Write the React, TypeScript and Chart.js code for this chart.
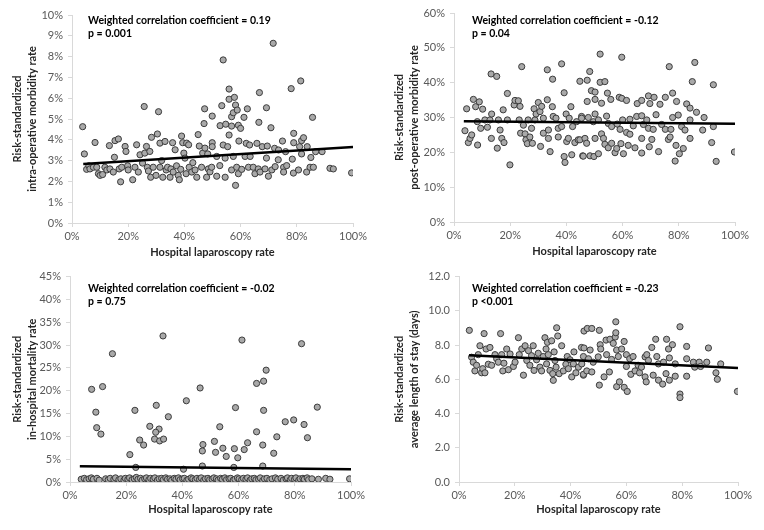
import React, { useEffect, useRef } from "react";
import { Chart, registerables } from "chart.js";
Chart.register(...registerables);

const FONT = "Lato, 'Open Sans', sans-serif";

const xTickValues = [0, 20, 40, 60, 80, 100];
const xAxisTitle = "Hospital laparoscopy rate";

// Panel 1: intra-operative morbidity (x: laparoscopy %, y: %)
const intraopPoints: number[][] = [
  [3.8,4.63],[4.4,3.32],[5.2,2.58],[6.0,2.75],[6.4,2.60],[7.6,2.68],[8.2,3.87],[8.8,2.68],[9.4,2.37],[10.0,2.29],
  [10.9,2.33],[11.7,2.68],[12.4,2.55],[13.3,3.72],[13.5,2.60],[14.7,2.45],[15.1,3.16],[15.3,3.96],[16.5,4.04],[16.8,2.60],
  [17.3,1.98],[17.7,2.68],[18.9,3.68],[19.2,3.44],[19.8,2.75],[20.0,2.55],[21.6,2.08],[22.4,2.68],[23.0,3.76],[23.6,2.45],
  [24.2,3.28],[25.1,2.88],[25.7,5.60],[25.9,3.36],[26.5,3.68],[26.8,2.68],[27.2,2.50],[27.7,3.44],[28.0,2.20],[28.3,4.12],
  [28.9,2.68],[29.9,2.29],[30.4,4.28],[30.8,5.35],[31.3,3.84],[31.3,2.68],[31.9,3.00],[32.3,2.20],[33.1,3.92],[33.5,2.55],
  [34.0,2.68],[34.9,2.20],[35.2,2.60],[35.8,3.86],[36.0,2.45],[36.7,3.52],[37.2,2.75],[37.8,2.29],[38.2,2.08],[38.7,2.58],
  [39.0,4.18],[39.4,3.86],[39.8,3.36],[40.2,3.12],[40.6,2.37],[40.8,3.84],[41.5,3.76],[41.7,2.68],[42.6,2.45],[43.0,2.90],
  [43.8,2.55],[44.4,2.20],[44.9,4.25],[45.3,3.70],[46.1,2.68],[46.5,3.36],[47.0,4.78],[47.2,5.49],[47.3,3.60],[47.9,2.20],
  [48.5,2.60],[48.3,3.32],[49.1,2.46],[49.7,2.68],[49.9,3.86],[49.9,3.67],[49.9,5.14],[51.5,3.20],[51.5,2.25],[52.6,2.76],
  [52.7,4.68],[53.3,5.64],[53.8,7.84],[53.8,3.75],[54.5,3.12],[54.5,2.20],[54.7,4.75],[55.4,3.67],[55.9,6.44],[55.9,5.95],
  [55.9,4.23],[56.8,5.11],[56.8,4.66],[56.8,2.55],[57.4,5.30],[57.4,3.20],[57.8,6.04],[58.2,5.67],[58.2,1.81],[58.6,2.68],
  [58.8,5.43],[59.2,4.70],[59.2,2.37],[59.4,3.94],[60.0,4.55],[60.4,2.58],[61.2,5.08],[61.6,3.20],[62.0,3.83],[62.4,5.49],
  [62.8,2.68],[63.2,3.75],[63.4,3.20],[64.5,2.68],[65.1,2.37],[65.8,3.83],[66.3,2.60],[66.5,4.84],[66.7,6.27],[66.9,2.45],
  [67.7,3.67],[68.7,2.60],[69.2,5.54],[69.2,3.12],[69.5,3.70],[69.9,2.25],[70.8,4.58],[71.1,2.55],[71.6,8.64],[72.1,3.59],
  [72.3,2.71],[73.4,3.04],[73.5,3.51],[74.9,3.94],[75.3,2.68],[75.3,2.45],[76.0,3.43],[76.4,2.76],[78.0,6.46],[78.4,3.07],
  [78.8,2.40],[78.9,4.31],[78.9,3.86],[80.6,2.55],[81.0,3.67],[81.4,6.83],[81.7,3.96],[81.7,3.32],[82.4,4.10],[83.5,2.45],
  [83.7,3.67],[84.7,2.68],[85.0,3.15],[85.6,5.08],[85.9,2.68],[86.7,3.43],[89.0,3.43],[91.8,2.63],[93.0,2.60],[99.5,2.41]
];
const intraopTrend: number[][] = [[4, 2.84], [100, 3.65]];

// Panel 2: post-operative morbidity
const postopPoints: number[][] = [
  [3.9,26.2],[4.5,32.5],[5.1,22.8],[5.7,24.0],[6.3,25.0],[6.9,35.2],[7.7,33.1],[8.3,28.8],[8.4,22.1],[9.0,34.5],
  [9.5,26.9],[10.2,32.4],[11.0,29.3],[11.9,27.2],[12.8,29.3],[13.2,42.5],[13.3,24.0],[13.4,31.0],[15.2,41.8],[15.4,21.2],
  [15.8,29.3],[16.4,26.4],[17.0,24.0],[17.5,32.2],[17.8,22.8],[19.0,36.9],[19.0,29.3],[19.9,16.4],[21.4,33.6],[21.7,34.9],
  [22.9,34.8],[23.2,29.3],[23.5,33.2],[23.7,25.5],[24.1,44.6],[24.7,27.8],[25.3,25.3],[25.6,23.6],[26.1,22.5],[26.4,29.3],
  [27.0,24.4],[27.6,26.9],[27.9,22.6],[28.5,32.5],[28.8,29.3],[29.2,31.0],[30.0,34.3],[30.6,31.7],[30.8,21.7],[31.2,33.2],
  [31.8,29.8],[31.8,25.5],[33.2,43.7],[33.2,35.1],[33.6,26.4],[33.6,24.0],[34.2,20.2],[35.0,33.1],[35.1,41.0],[35.3,30.3],
  [36.3,29.8],[37.1,26.9],[37.1,24.4],[38.3,45.4],[38.3,27.4],[39.2,37.1],[39.2,18.8],[39.5,17.1],[39.9,31.0],[40.1,23.1],
  [40.7,24.0],[41.0,29.8],[41.6,33.1],[41.9,19.3],[42.2,27.4],[43.0,22.8],[43.6,28.8],[44.2,23.6],[44.8,40.4],[45.4,30.3],
  [45.8,19.0],[44.8,23.6],[45.4,29.8],[46.0,18.9],[46.6,24.0],[47.2,22.6],[47.4,40.7],[47.4,34.6],[47.8,30.0],[48.3,43.2],
  [48.4,19.0],[48.9,37.7],[49.6,28.8],[49.8,18.8],[50.2,37.3],[50.2,35.2],[50.2,31.0],[50.2,24.0],[51.4,29.3],[51.4,19.6],
  [52.0,48.2],[52.0,40.1],[52.5,34.1],[52.5,25.3],[53.2,24.0],[53.7,40.3],[53.7,22.3],[54.3,30.4],[54.6,37.0],[54.9,28.3],
  [54.9,21.3],[55.8,35.2],[56.1,27.4],[56.1,22.6],[57.3,19.9],[57.9,21.1],[58.1,28.1],[58.8,35.8],[59.1,26.6],[59.4,22.5],
  [59.7,47.3],[59.7,35.5],[60.0,29.3],[60.3,19.6],[61.4,34.9],[61.4,25.7],[62.0,22.0],[62.6,29.5],[62.6,25.2],[63.8,27.6],
  [64.4,21.3],[65.0,30.3],[65.2,34.0],[66.8,34.9],[66.8,30.5],[66.8,24.0],[66.8,19.8],[67.4,28.0],[68.6,29.3],[69.2,36.2],
  [69.2,26.9],[69.5,21.6],[69.7,34.0],[70.4,23.7],[70.9,26.6],[71.2,35.8],[71.9,30.8],[72.8,20.2],[73.3,33.8],[73.9,28.0],
  [75.2,35.8],[75.2,26.6],[76.3,23.7],[76.6,44.6],[76.9,24.4],[77.2,26.6],[77.8,37.0],[77.8,30.0],[78.7,17.5],[79.0,22.0],
  [79.2,34.6],[79.8,30.7],[80.2,19.6],[81.0,27.4],[81.6,21.1],[82.2,26.4],[82.8,33.9],[84.0,32.7],[84.0,29.3],[84.0,24.0],
  [84.8,40.3],[85.7,45.8],[86.3,31.5],[88.5,26.4],[89.0,30.0],[91.7,22.8],[92.3,39.4],[92.3,27.4],[93.3,17.4],[99.8,20.1]
];
const postopTrend: number[][] = [[3.5, 28.9], [100, 28.2]];

// Panel 3: in-hospital mortality
const mortalityPoints: number[][] = [
  [33.1,32.0],[15.1,28.1],[7.7,20.3],[11.6,20.9],[46.3,20.6],[9.2,15.3],[9.5,11.9],[11.0,10.5],[23.1,15.7],[30.7,16.8],
  [41.4,17.8],[35.0,14.3],[28.4,12.2],[31.7,11.6],[30.5,10.9],[24.8,9.2],[26.2,8.1],[30.1,9.4],[31.9,9.0],[33.3,9.4],
  [47.3,8.2],[47.1,6.8],[21.3,6.0],[23.4,3.2],[40.4,2.8],[47.1,3.5],
  [61.2,31.1],[82.4,30.3],[69.8,24.5],[66.4,21.6],[68.9,22.1],[58.9,16.3],[68.9,15.7],[88.0,16.4],[76.6,13.2],[79.6,13.6],
  [83.3,12.6],[53.3,12.1],[66.4,11.0],[73.6,9.9],[84.5,9.7],[51.4,8.9],[63.2,8.6],[68.6,8.1],[54.4,7.4],[58.5,7.3],
  [62.0,7.1],[51.8,6.5],[72.5,6.3],[55.6,5.6],[59.7,5.3],[58.3,3.2],[68.6,3.5],
  [4.0,0.6],[5.1,0.8],[5.9,0.5],[6.8,0.7],[7.6,0.9],[8.3,0.6],[9.6,0.8],[10.4,0.4],[12.7,0.7],[13.6,0.5],
  [14.3,0.8],[15.6,0.6],[16.2,0.9],[17.4,0.5],[18.1,0.7],[19.2,0.4],[19.7,0.8],[20.6,0.6],[21.2,0.9],[22.1,0.5],
  [22.9,0.7],[23.6,1.0],[24.2,0.6],[25.1,0.8],[25.7,0.4],[26.6,0.7],[27.2,0.9],[28.1,0.5],[28.7,0.8],[29.6,0.6],
  [30.2,0.9],[31.1,0.4],[31.7,0.7],[32.6,0.8],[33.2,0.5],[34.1,0.9],[34.7,0.6],[35.6,0.7],[36.2,0.4],[37.1,0.8],
  [37.7,0.6],[38.6,0.9],[39.2,0.5],[40.1,0.7],[40.7,0.8],[41.6,0.4],[42.2,0.6],[43.1,0.9],[43.7,0.7],[44.6,0.5],
  [45.2,0.8],[46.1,0.6],[46.7,0.9],[47.6,0.4],[48.2,0.7],[49.1,0.8],[49.7,0.5],[50.6,0.6],[51.2,0.9],[52.1,0.7],
  [52.7,0.4],[53.6,0.8],[54.2,0.6],[55.1,0.9],[55.7,0.5],[56.6,0.7],[57.2,0.8],[58.1,0.4],[58.7,0.6],[59.6,0.9],
  [60.2,0.7],[61.1,0.5],[61.7,0.8],[62.6,0.6],[63.2,0.9],[64.1,0.4],[64.7,0.7],[65.6,0.8],[66.2,0.5],[67.1,0.6],
  [67.7,0.9],[68.6,0.3],[69.2,0.7],[70.1,0.8],[71.1,0.5],[71.9,0.7],[73.1,0.9],[73.9,0.6],[75.1,0.8],[75.9,0.4],
  [76.9,0.7],[77.4,0.9],[78.4,0.5],[78.9,0.8],[79.9,0.6],[80.4,0.9],[81.4,0.4],[81.9,0.7],[82.9,0.8],[83.4,0.6],
  [84.4,0.9],[84.9,0.5],[86.1,0.7],[88.4,0.6],[91.0,0.8],[92.5,0.6],[99.5,0.7]
];
const mortalityTrend: number[][] = [[3.5, 3.45], [100, 2.8]];

// Panel 4: average length of stay (days)
const stayPoints: number[][] = [
  [3.7,8.86],[4.5,7.29],[5.1,7.00],[5.7,6.49],[6.3,6.82],[6.9,7.44],[7.5,7.96],[8.1,6.38],[8.5,6.62],[9.0,8.67],
  [9.3,6.38],[9.7,7.77],[10.5,6.88],[11.1,7.86],[11.7,6.82],[12.9,7.44],[13.5,7.20],[14.1,7.00],[14.9,8.67],[15.3,7.44],
  [15.7,6.49],[16.1,6.94],[17.1,7.77],[17.7,6.56],[18.3,7.48],[19.5,6.75],[20.1,7.00],[21.3,8.43],[21.6,7.44],[22.5,7.77],
  [23.1,6.24],[23.7,7.96],[24.3,7.10],[24.9,7.67],[25.4,6.82],[26.0,7.38],[26.6,7.96],[26.9,6.52],[27.8,7.14],[28.4,7.52],
  [29.0,6.71],[29.6,6.49],[30.2,7.33],[30.8,8.43],[31.2,7.77],[31.4,6.90],[31.7,8.16],[32.0,7.44],[32.6,6.52],[33.2,8.25],
  [33.6,6.33],[33.8,5.94],[34.1,7.60],[34.4,7.10],[34.8,6.71],[35.0,9.01],[35.4,8.53],[35.9,6.33],[36.8,7.96],[37.4,6.49],
  [38.3,6.88],[38.8,7.33],[39.2,6.62],[39.8,7.14],[40.4,6.14],[41.0,6.90],[41.2,7.60],[41.9,6.38],[42.8,6.71],[43.9,7.86],
  [44.6,6.24],[44.8,8.82],[44.0,6.90],[44.6,7.33],[44.6,6.29],[44.8,7.83],[45.8,6.49],[46.0,8.97],[46.4,7.20],[47.0,7.71],
  [47.6,8.97],[47.6,6.43],[48.1,7.00],[49.9,7.31],[50.3,8.86],[50.3,5.66],[50.6,8.02],[50.8,7.77],[52.0,6.14],[52.7,8.29],
  [52.9,7.44],[53.9,6.43],[54.1,8.34],[54.7,7.16],[55.3,8.10],[56.0,8.47],[56.2,9.36],[56.2,8.72],[56.5,7.71],[56.5,5.57],
  [57.1,7.33],[57.5,5.85],[58.3,7.77],[59.2,8.21],[59.2,5.53],[60.0,7.44],[60.0,6.75],[60.3,5.29],[61.2,7.20],[61.6,6.29],
  [62.4,7.33],[63.1,6.49],[64.2,6.82],[64.7,6.38],[65.4,6.71],[66.7,7.31],[66.7,6.14],[67.1,5.85],[67.3,7.44],[67.9,7.10],
  [69.1,7.86],[69.6,6.24],[70.5,8.34],[70.9,7.33],[71.5,6.90],[71.5,5.95],[73.0,5.72],[73.3,7.00],[74.2,6.33],[74.4,8.34],
  [75.1,7.77],[75.4,7.25],[75.4,5.95],[76.5,8.02],[77.5,6.90],[77.5,6.18],[79.2,9.07],[79.2,5.14],[79.2,4.93],[81.6,7.92],
  [81.6,7.20],[81.6,6.18],[84.0,7.00],[84.5,6.71],[86.1,7.00],[86.6,6.75],[88.8,7.00],[89.4,7.83],[92.1,6.38],[92.6,6.00],
  [93.8,6.90],[99.8,5.29]
];
const stayTrend: number[][] = [[3.6, 7.41], [100, 6.66]];

type PanelCfg = {
  points: number[][];
  trend: number[][];
  yMax: number;
  yStep: number;
  yFmt: (v: number) => string;
  yTitle: string[];
  stat1: string;
  stat2: string;
  pad: { left: number; top: number; right: number; bottom: number };
  xTitlePad: number;
  textDx: number;
  textDy: number;
};

const pct = (v: number) => `${v}%`;

const panels: { cfg: PanelCfg; left: number; top: number }[] = [
  {
    left: 0, top: 0,
    cfg: {
      points: intraopPoints, trend: intraopTrend, yMax: 10, yStep: 1, yFmt: pct,
      yTitle: ["Risk-standardized", "intra-operative morbidity rate"],
      stat1: "Weighted correlation coefficient = 0.19", stat2: "p = 0.001",
      pad: { left: 72, top: 15, right: 29, bottom: 42 }, xTitlePad: 6, textDx: 16, textDy: 6,
    },
  },
  {
    left: 382, top: 0,
    cfg: {
      points: postopPoints, trend: postopTrend, yMax: 60, yStep: 10, yFmt: pct,
      yTitle: ["Risk-standardized", "post-operative morbidity rate"],
      stat1: "Weighted correlation coefficient = -0.12", stat2: "p = 0.04",
      pad: { left: 72, top: 13, right: 29, bottom: 43 }, xTitlePad: 7, textDx: 18, textDy: 8,
    },
  },
  {
    left: 0, top: 265,
    cfg: {
      points: mortalityPoints, trend: mortalityTrend, yMax: 45, yStep: 5, yFmt: pct,
      yTitle: ["Risk-standardized", "in-hospital mortality rate"],
      stat1: "Weighted correlation coefficient = -0.02", stat2: "p = 0.75",
      pad: { left: 70, top: 8, right: 31, bottom: 48 }, xTitlePad: 14, textDx: 18, textDy: 12,
    },
  },
  {
    left: 382, top: 265,
    cfg: {
      points: stayPoints, trend: stayTrend, yMax: 12, yStep: 2, yFmt: (v: number) => v.toFixed(1),
      yTitle: ["Risk-standardized", "average length of stay (days)"],
      stat1: "Weighted correlation coefficient = -0.23", stat2: "p <0.001",
      pad: { left: 77, top: 8, right: 26, bottom: 48 }, xTitlePad: 14, textDx: 13, textDy: 12,
    },
  },
];

function Panel({ cfg, left, top }: { cfg: PanelCfg; left: number; top: number }) {
  const ref = useRef<HTMLCanvasElement | null>(null);
  useEffect(() => {
    if (!ref.current) return;
    const statPlugin = {
      id: "stat",
      afterDraw(chart: any) {
        const { ctx, chartArea } = chart;
        ctx.save();
        ctx.fillStyle = "#000";
        ctx.font = `bold 10.5px ${FONT}`;
        ctx.textBaseline = "middle";
        ctx.textAlign = "left";
        const x = chartArea.left + cfg.textDx;
        const y = chartArea.top + cfg.textDy;
        ctx.fillText(cfg.stat1, x, y);
        ctx.fillText(cfg.stat2, x, y + 13);
        ctx.restore();
      },
    };
    const chart = new Chart(ref.current, {
      type: "scatter",
      data: {
        datasets: [
          {
            type: "line",
            data: cfg.trend.map(([x, y]) => ({ x, y })),
            borderColor: "#000",
            borderWidth: 2.5,
            pointRadius: 0,
            fill: false,
            order: 0,
          } as any,
          {
            data: cfg.points.map(([x, y]) => ({ x, y })),
            backgroundColor: "#a9a9a9",
            borderColor: "#3c3c3c",
            borderWidth: 1,
            pointRadius: 3.1,
            order: 1,
          },
        ],
      },
      options: {
        responsive: false,
        animation: false,
        layout: { padding: { left: 0, top: cfg.pad.top, right: cfg.pad.right, bottom: 0 } },
        plugins: { legend: { display: false }, tooltip: { enabled: false } },
        scales: {
          x: {
            type: "linear",
            min: 0,
            max: 100,
            afterBuildTicks: (s: any) => { s.ticks = xTickValues.map((v) => ({ value: v })); },
            afterFit: (s: any) => { s.height = cfg.pad.bottom; },
            ticks: { callback: (v: any) => `${v}%`, color: "#595959", font: { family: FONT, size: 11 }, padding: 3, maxRotation: 0 },
            grid: { drawOnChartArea: false, drawTicks: true, tickLength: 4, color: "#d9d9d9" },
            border: { color: "#d9d9d9" },
            title: { display: true, text: xAxisTitle, color: "#262626", font: { family: FONT, size: 11, weight: "bold" }, padding: { top: 0, bottom: cfg.xTitlePad } },
          },
          y: {
            type: "linear",
            min: 0,
            max: cfg.yMax,
            ticks: { stepSize: cfg.yStep, callback: (v: any) => cfg.yFmt(Number(v)), color: "#595959", font: { family: FONT, size: 11 }, padding: 5 },
            afterFit: (s: any) => { s.width = cfg.pad.left; },
            grid: { drawOnChartArea: false, drawTicks: true, tickLength: 4, color: "#d9d9d9" },
            border: { color: "#d9d9d9" },
            title: { display: true, text: cfg.yTitle, color: "#262626", font: { family: FONT, size: 11, weight: "bold", lineHeight: 1.35 }, padding: { top: 10, bottom: 0 } },
          },
        },
      } as any,
      plugins: [statPlugin],
    });
    return () => chart.destroy();
  }, [cfg]);
  return (
    <canvas
      ref={ref}
      width={382}
      height={265}
      style={{ position: "absolute", left, top, width: 382, height: 265, display: "block" }}
    />
  );
}

export default function App() {
  return (
    <div style={{ position: "absolute", left: 0, top: 0, width: 764, height: 530, background: "#fff" }}>
      {panels.map((p, i) => (
        <Panel key={i} cfg={p.cfg} left={p.left} top={p.top} />
      ))}
    </div>
  );
}
